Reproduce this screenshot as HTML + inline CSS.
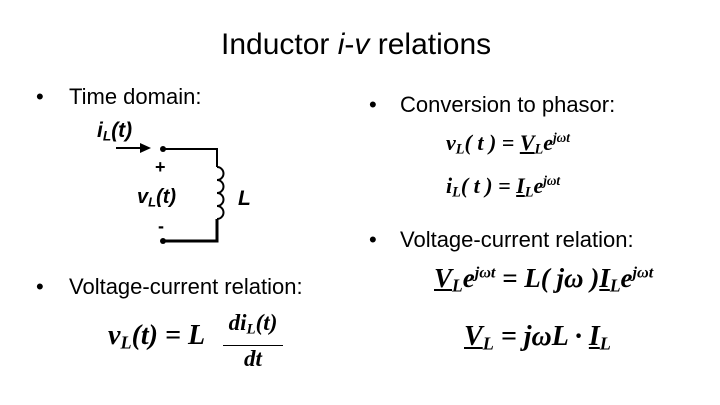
<!DOCTYPE html>
<html><head><meta charset="utf-8"><style>
body{margin:0;width:720px;height:405px;background:#fff;position:relative;overflow:hidden;font-family:"Liberation Sans",sans-serif;color:#000}
.a{position:absolute;white-space:nowrap}
.b{font-size:22px;line-height:26px}
.m{font-family:"Liberation Serif",serif;font-weight:bold;font-style:italic}
.u{text-decoration:underline}
sub{font-size:0.65em;vertical-align:-0.25em}
sup{font-size:0.6em;vertical-align:0.6em}
</style></head><body>
<div class="a" style="left:221px;top:27px;font-size:30px;line-height:36px">Inductor <i>i</i>-<i>v</i> relations</div>
<div class="a b" style="left:36px;top:84px">•</div><div class="a b" style="left:69px;top:84px">Time domain:</div>
<div class="a b" style="left:369px;top:92px">•</div><div class="a b" style="left:400px;top:92px">Conversion to phasor:</div>
<div class="a b" style="left:369px;top:227px">•</div><div class="a b" style="left:400px;top:227px">Voltage-current relation:</div>
<div class="a b" style="left:36px;top:274px">•</div><div class="a b" style="left:69px;top:274px">Voltage-current relation:</div>

<svg class="a" style="left:0;top:0" width="720" height="405">
<line x1="116" y1="148" x2="142" y2="148" stroke="#000" stroke-width="2"/>
<polygon points="140,143 151,148 140,153" fill="#000"/>
<circle cx="163" cy="149" r="3" fill="#000"/>
<polyline points="163,149 217,149 217,167" fill="none" stroke="#000" stroke-width="2"/>
<path d="M217,167 a6,6 0 0 1 0,13 a6,6 0 0 1 0,13 a6,6 0 0 1 0,13 a6,6 0 0 1 0,13" fill="none" stroke="#000" stroke-width="2"/>
<polyline points="217,219 217,241 163,241" fill="none" stroke="#000" stroke-width="3"/>
<circle cx="163" cy="241" r="3" fill="#000"/>
</svg>
<div class="a" style="left:97px;top:119px;font-size:21px;font-weight:bold;font-style:italic">i<sub>L</sub>(t)</div>
<div class="a" style="left:155px;top:157px;font-size:18px;font-weight:bold">+</div>
<div class="a" style="left:137px;top:186px;font-size:20px;font-weight:bold;font-style:italic">v<sub>L</sub>(t)</div>
<div class="a" style="left:238px;top:187px;font-size:21px;font-weight:bold;font-style:italic">L</div>
<div class="a" style="left:158px;top:216px;font-size:18px;font-weight:bold">-</div>

<div class="a m" style="left:446px;top:130px;font-size:22px">v<sub>L</sub>( t ) = <span class="u">V</span><sub>L</sub>e<sup>jωt</sup></div>
<div class="a m" style="left:446px;top:173px;font-size:22px">i<sub>L</sub>( t ) = <span class="u">I</span><sub>L</sub>e<sup>jωt</sup></div>
<div class="a m" style="left:434px;top:263px;font-size:27px"><span class="u">V</span><sub>L</sub>e<sup>jωt</sup> = L( jω )<span class="u">I</span><sub>L</sub>e<sup>jωt</sup></div>
<div class="a m" style="left:464px;top:321px;font-size:28px"><span class="u">V</span><sub>L</sub> = jωL · <span class="u">I</span><sub>L</sub></div>

<div class="a" style="left:108px;top:320px;font-family:'Liberation Serif',serif;font-size:28px;font-weight:bold;font-style:italic">v<sub>L</sub>(t) = L</div>
<div class="a" style="left:223px;top:310px;width:60px;text-align:center;font-family:'Liberation Serif',serif;font-size:23px;font-weight:bold;font-style:italic;line-height:26px">di<sub>L</sub>(t)<div style="border-top:1.5px solid #000;margin-top:2px">dt</div></div>
</body></html>
